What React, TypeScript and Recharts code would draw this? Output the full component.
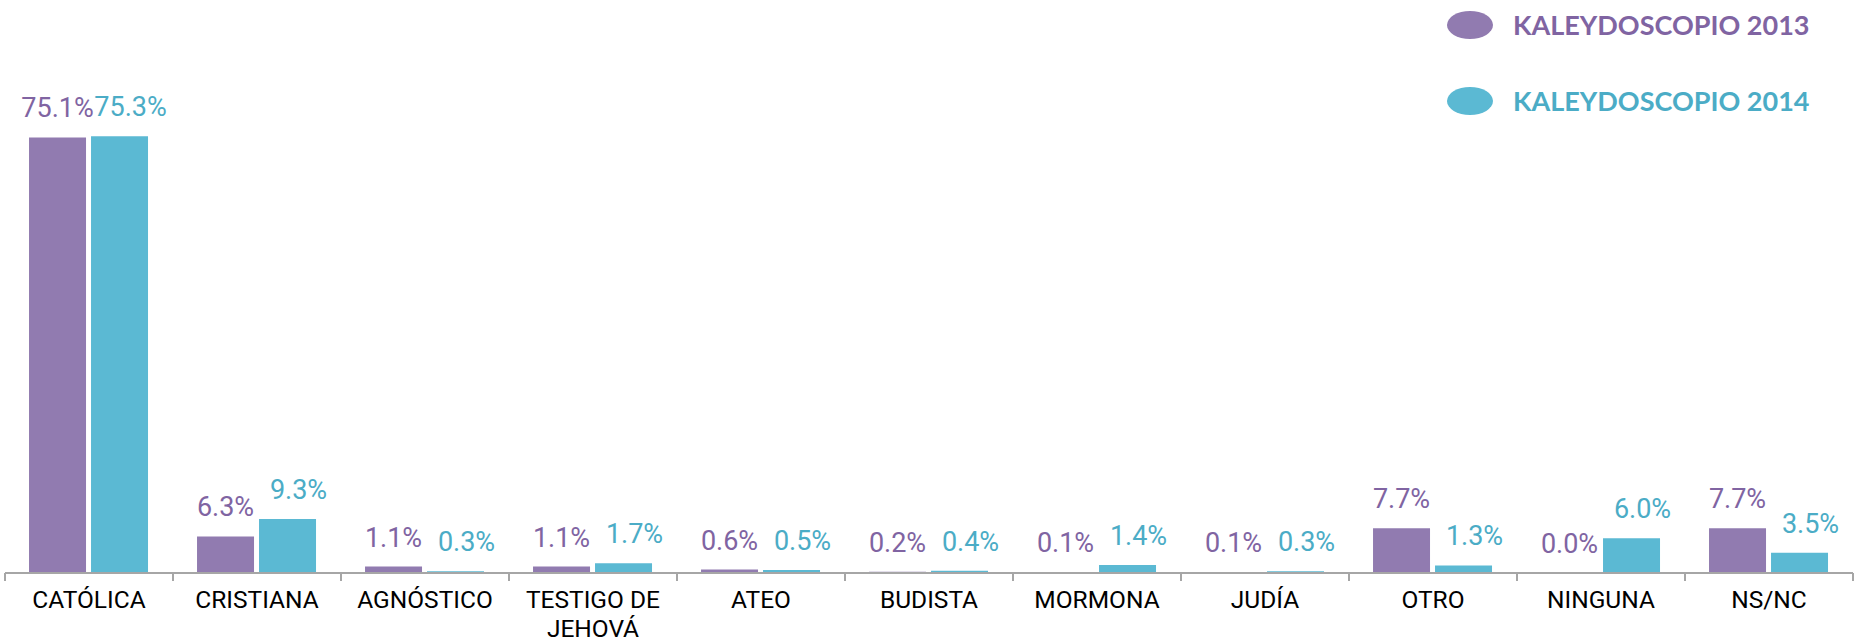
import React from 'react';
import { BarChart, Bar, XAxis, YAxis, Legend, LabelList } from 'recharts';

const categories = ['CATÓLICA', 'CRISTIANA', 'AGNÓSTICO', 'TESTIGO DE JEHOVÁ', 'ATEO', 'BUDISTA', 'MORMONA', 'JUDÍA', 'OTRO', 'NINGUNA', 'NS/NC'];
const values2013 = [75.1, 6.3, 1.1, 1.1, 0.6, 0.2, 0.1, 0.1, 7.7, 0.0, 7.7];
const values2014 = [75.3, 9.3, 0.3, 1.7, 0.5, 0.4, 1.4, 0.3, 1.3, 6.0, 3.5];
const seriesNames = ['KALEYDOSCOPIO 2013', 'KALEYDOSCOPIO 2014'];

const data = categories.map((c, i) => ({ cat: c, k2013: values2013[i], k2014: values2014[i] }));

const CHART_W = 1855;
const CHART_H = 643;
const MARGIN = { top: 109, right: 2, left: 5, bottom: 0 };
const BAND = (CHART_W - MARGIN.left - MARGIN.right) / categories.length;

const BAR_2013 = '#917BB0';
const BAR_2014 = '#5BB9D3';
const TXT_2013 = '#8064A2';
const TXT_2014 = '#4BACC6';
const AXIS = '#A6A6A6';

const makeLabel = (color: string, dx: number) => (props: any) => {
  const { x, y, width, value } = props;
  if (value === undefined || value === null) return null;
  return (
    <text x={Number(x) + Number(width) / 2 + dx} y={Number(y) - 20} textAnchor="middle" fill={color}
      fontFamily="Roboto" fontSize={27}>
      {Number(value).toFixed(1)}%
    </text>
  );
};

const wrapWords = (s: string, maxChars: number) => {
  const words = s.split(' ');
  const lines: string[] = [];
  let cur = '';
  words.forEach((w) => {
    const next = cur ? cur + ' ' + w : w;
    if (next.length > maxChars && cur) {
      lines.push(cur);
      cur = w;
    } else {
      cur = next;
    }
  });
  if (cur) lines.push(cur);
  return lines;
};

const CatTick = (props: any) => {
  const { x, y, payload, index } = props;
  const lines = wrapWords(String(payload.value), 12);
  const left = Number(x) - BAND / 2;
  const right = Number(x) + BAND / 2;
  return (
    <g>
      <line x1={left} x2={left} y1={y} y2={Number(y) + 8} stroke={AXIS} strokeWidth={2} />
      {index === categories.length - 1 && (
        <line x1={right} x2={right} y1={y} y2={Number(y) + 8} stroke={AXIS} strokeWidth={2} />
      )}
      <text x={x} textAnchor="middle" fontFamily="Roboto" fontSize={24.5} fill="#000">
        {lines.map((l, i) => (
          <tspan key={i} x={x} y={Number(y) + 35 + i * 28.6}>{l}</tspan>
        ))}
      </text>
    </g>
  );
};

const LegendContent = (props: any) => {
  const payload = props.payload || [];
  return (
    <svg width={455} height={130}>
      {payload.map((p: any, i: number) => (
        <g key={i}>
          <ellipse cx={70} cy={25 + i * 76} rx={23} ry={14} fill={p.color} />
          <text x={113} y={35 + i * 76} fill={i === 0 ? TXT_2013 : TXT_2014}
            fontFamily="Lato" fontWeight={700} fontSize={27}>{p.value}</text>
        </g>
      ))}
    </svg>
  );
};

export default function App() {
  return (
    <div style={{ position: 'absolute', left: 0, top: 0 }}>
      <style>{'body{margin:0}'}</style>
      <BarChart width={CHART_W} height={CHART_H} data={data} margin={MARGIN}
        barCategoryGap="14.3%" barGap={5}>
        <XAxis dataKey="cat" type="category" interval={0} height={70}
          axisLine={{ stroke: AXIS, strokeWidth: 2 }} tickLine={false} tickSize={0} tickMargin={0}
          tick={<CatTick />} />
        <YAxis hide domain={[0, 80]} />
        <Legend layout="vertical" align="center" verticalAlign="middle" content={<LegendContent />}
          wrapperStyle={{ top: 0, left: 1400, width: 455, height: 130 }} />
        <Bar dataKey="k2013" name={seriesNames[0]} fill={BAR_2013} minPointSize={0.01} isAnimationActive={false}>
          <LabelList dataKey="k2013" content={makeLabel(TXT_2013, 0)} />
        </Bar>
        <Bar dataKey="k2014" name={seriesNames[1]} fill={BAR_2014} minPointSize={0.01} isAnimationActive={false}>
          <LabelList dataKey="k2014" content={makeLabel(TXT_2014, 11)} />
        </Bar>
      </BarChart>
    </div>
  );
}
